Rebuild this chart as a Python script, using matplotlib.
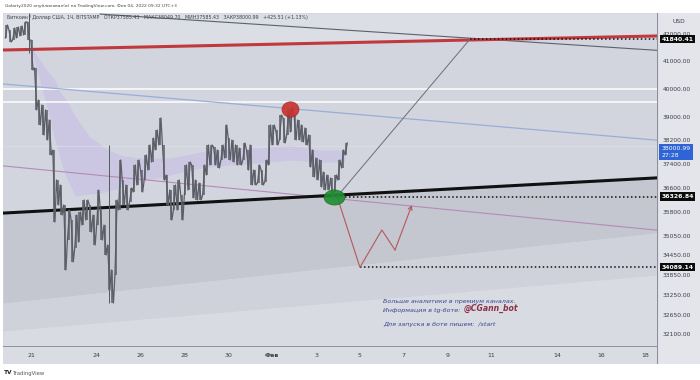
import numpy as np
import matplotlib
matplotlib.use('Agg')
import matplotlib.pyplot as plt
from matplotlib.path import Path
from matplotlib.transforms import Affine2D

# BTC/USD Bitstamp, свечи по 4 часа (максимум / минимум), начало 19 янв 21:00
candle_high = [42373, 42184, 42260, 42297, 42335, 42488, 42488, 41806, 40769, 39614,
               39437, 39260, 38910, 37876, 36870, 36704, 36051, 35890, 35569, 35729,
               35825, 36213, 36213, 36051, 35729, 36540, 35890, 35410, 34780, 34008,
               36213, 37537, 36870, 36704, 36606, 37369, 37537, 37202, 37706, 38046,
               38286, 38562, 38980, 38046, 37035, 36540, 36704, 36870, 36376, 37369,
               37470, 37369, 36870, 36770, 37369, 38046, 38046, 37978, 37876, 38046,
               38736, 38286, 38217, 38046, 37944, 38114, 37876, 38046, 37202, 37369,
               37202, 37537, 38736, 38736, 38562, 39085, 38980, 39260, 39331, 39085,
               38910, 38736, 38630, 38389, 37876, 37604, 37537, 37135, 37035, 36936,
               37035, 37537, 37876, 38114]
candle_low = [41881, 41731, 41806, 41881, 41957, 41995, 41806, 40696, 39260, 38736,
              38389, 38217, 37706, 35505, 36051, 35729, 34008, 34936, 34253, 34686,
              34873, 35410, 35569, 35188, 34780, 35410, 34936, 34469, 33403, 33015,
              33856, 35890, 36051, 35890, 36148, 36474, 36704, 36474, 36870, 37202,
              37470, 37876, 38046, 36870, 36051, 35569, 35890, 35890, 35569, 36376,
              36540, 36278, 36213, 36213, 36376, 37035, 37369, 37369, 37269, 37537,
              37604, 37537, 37470, 37369, 37369, 37537, 37202, 36704, 36704, 36770,
              36704, 36803, 37369, 38046, 38046, 38217, 38114, 38389, 38493, 38217,
              38217, 38150, 38046, 37302, 36969, 36870, 36638, 36540, 36540, 36300,
              36474, 36870, 37269, 37706]

# ось X: дни от 21 января
x_edges = [-1.28, 28.55]
red_line = [41432, 41958]
black_line = [35790, 36940]
purple_line = [37340, 35245]
blue_line = [40190, 38210]
channel_1 = [33010, 35160]
channel_2 = [32196, 33850]
white_levels = [40000, 39540]
grey_top_x = [3.15, 28.55]
grey_top_y = [42790, 41420]

# лавандовая область
band_x = [-0.05, 0.64, 1.09, 1.32, 1.55, 2.01, 2.69, 3.15, 3.37, 4.06, 4.97, 6.34,
          7.71, 9.07, 10.44, 11.81, 13.18, 14.32]
band_top = [41619, 40769, 40332, 39900, 39686, 39050, 38320, 38080, 37944, 37706,
            37604, 37604, 37808, 37944, 37944, 38046, 37876, 37876]
band_bot = [41619, 39614, 38217, 37604, 37035, 36343, 36409, 36442, 36474, 36606,
            36803, 37035, 37269, 37369, 37436, 37537, 37470, 37470]

# вертикальные отрезки
vseg_x = [-0.09, 3.56]
vseg_top = [42832, 38046]
vseg_bot = [41315, 33015]

# прогноз
proj_x = [13.96, 20.02]
proj_y = [36327, 41840]
zig_x = [13.96, 15.0, 16.0, 16.6, 17.37]
zig_y = [36327, 34089, 35251, 34624, 36051]

levels = [41840.41, 36326.84, 34089.14]
level_start = [20.02, 13.96, 15.0]

red_mark = (11.81, 39296)
green_mark = (13.82, 36327)

price_ticks = [42000, 41000, 40000, 39000, 38200, 37400, 36600, 35800, 35050,
               34450, 33850, 33250, 32650, 32100]
day_ticks = [0, 3, 5, 7, 9, 11, 13, 15, 17, 19, 21, 24, 26, 28]
day_labels = ['21', '24', '26', '28', '30', 'Фев', '3', '5', '7', '9', '11',
              '14', '16', '18']

ylo, yhi = 31765, 42832

fig = plt.figure(figsize=(7, 3.8), dpi=100)
fig.patch.set_facecolor('white')

ax = fig.add_axes([3/700, 34/380, 654/700, 333/380])
ax.set_yscale('log')
ax.set_xlim(x_edges)
ax.set_ylim(ylo, yhi)
ax.set_facecolor('#d2d5de')
ax.tick_params(which='both', left=False, labelleft=False, bottom=False, labelbottom=False)
for s in ax.spines.values():
    s.set_visible(False)

# заливки
ax.fill_between(x_edges, red_line, [yhi, yhi], color='#dbdee5', lw=0, zorder=0)
ax.fill_between(x_edges, channel_1, black_line, color='#c4c7d0', lw=0, zorder=0)
ax.fill_between(x_edges, channel_2, channel_1, color='#cfd2da', lw=0, zorder=0)
ax.fill_between(x_edges, [ylo, ylo], channel_2, color='#d8dbe2', lw=0, zorder=0)
ax.fill_between(band_x, band_bot, band_top, color='#c6bde6', alpha=0.55, lw=0, zorder=1)

# линии
for lv in white_levels:
    ax.axhline(lv, color='white', lw=1.2, alpha=0.9, zorder=1)
ax.axhline(38000, color='#e2e2ec', lw=0.6, alpha=0.6, zorder=1)
ax.plot(x_edges, blue_line, color='#98aed6', lw=0.9, zorder=2)
ax.plot(x_edges, purple_line, color='#b58ab8', lw=0.8, zorder=2)
ax.plot(grey_top_x, grey_top_y, color='#5c616b', lw=0.8, zorder=2)
ax.plot(x_edges, red_line, color='#c0393d', lw=2.2, zorder=2)
ax.plot(x_edges, black_line, color='#111111', lw=2.2, zorder=2)
ax.vlines(vseg_x, vseg_bot, vseg_top, color='#55595f', lw=0.7, zorder=2)

for lv, x0 in zip(levels, level_start):
    ax.plot([x0, x_edges[1]], [lv, lv], color='#111111', lw=1.1,
            linestyle=(0, (1, 1.6)), zorder=2)

# свечи: вертикальные бары + зигзаг между максимумами и минимумами
cx = np.arange(len(candle_high)) / 6 - 1.125
hi = np.array(candle_high)
lo = np.array(candle_low)
ax.vlines(cx, lo, hi, color='#5b5e66', lw=1.1, zorder=3)
mid = np.sqrt(hi * lo)
zx, zy = [], []
for k in range(len(cx)):
    rising = k == 0 or mid[k] >= mid[k - 1]
    first, second = (lo[k], hi[k]) if rising else (hi[k], lo[k])
    zx += [cx[k] - 0.05, cx[k] + 0.05]
    zy += [first, second]
ax.plot(zx, zy, color='#5b5e66', lw=0.9, zorder=3)

ax.plot(proj_x, proj_y, color='#6a6e77', lw=0.7, zorder=3)
ax.plot(zig_x[:-1], zig_y[:-1], color='#b5585a', lw=0.8, zorder=3)
ax.annotate('', xy=(zig_x[-1], zig_y[-1]), xytext=(zig_x[-2], zig_y[-2]),
            arrowprops=dict(arrowstyle='->', color='#b5585a', lw=0.8,
                            shrinkA=0, shrinkB=0, mutation_scale=7), zorder=3)

# овалы
red_path = Path.unit_circle().transformed(Affine2D().scale(1.11, 1))
green_path = Path.unit_circle().transformed(Affine2D().scale(1.38, 1))
ax.scatter([red_mark[0]], [red_mark[1]], marker=red_path, s=150,
           color='#c8312e', alpha=0.9, edgecolor='#a82522', lw=0.5, zorder=4)
ax.scatter([green_mark[0]], [green_mark[1]], marker=green_path, s=225,
           color='#1f8d30', alpha=0.9, edgecolor='#16701f', lw=0.5, zorder=4)

# подписи на графике
ax.text(0.006, 0.985, 'Биткоин / Доллар США, 1Ч, BITSTAMP   ОТКР37585.43   МАКС38049.70   '
        'МИН37585.43   ЗАКР38000.99   +425.51 (+1.13%)',
        transform=ax.transAxes, fontsize=3.4, color='#3a3f4a', va='center', zorder=5)
ax.text(0.581, 0.13, 'Больше аналитики в премиум каналах.', transform=ax.transAxes,
        fontsize=4.6, style='italic', color='#3c4491', zorder=5)
info = ax.text(0.581, 0.103, 'Информация в tg-боте:', transform=ax.transAxes,
               fontsize=4.6, style='italic', color='#3c4491', zorder=5)
ax.annotate('@CGann_bot', xy=(1, 0), xycoords=info, xytext=(2.5, 0),
            textcoords='offset points', va='bottom', fontsize=5.6,
            style='italic', weight='bold', color='#8e2f48', zorder=5)
ax.text(0.581, 0.06, 'Для запуска в боте пишем:  /start', transform=ax.transAxes,
        fontsize=4.6, style='italic', color='#3c4491', zorder=5)

# шкала цены
axp = fig.add_axes([657/700, 16/380, 43/700, 351/380])
axp.set_yscale('log')
axp.set_ylim(ylo * np.exp(-18 / 1114), yhi)
axp.set_xlim(0, 1)
axp.set_facecolor('#e3e5eb')
axp.tick_params(which='both', left=False, labelleft=False, bottom=False, labelbottom=False)
for s in axp.spines.values():
    s.set_visible(False)
axp.axvline(0, color='#8a8f99', lw=0.8)
tr = axp.get_yaxis_transform()
for p in price_ticks:
    axp.text(0.14, p, f'{p:.2f}', transform=tr, fontsize=4.3, color='#3a3d44', va='center')
axp.text(0.5, 0.975, 'USD', transform=axp.transAxes, fontsize=4.3, color='#3a3d44',
         ha='center', va='center')
for lv in levels:
    axp.text(0.1, lv, f'{lv:.2f}', transform=tr, fontsize=4.4, color='white',
             weight='bold', va='center',
             bbox=dict(boxstyle='square,pad=0.25', fc='#0b0b0b', ec='none'))
axp.text(0.1, 38000.99, '38000.99\n27:28', transform=tr, fontsize=4.4, color='white',
         va='top', linespacing=1.3,
         bbox=dict(boxstyle='square,pad=0.35', fc='#2f64d6', ec='none'))

# шкала времени
axt = fig.add_axes([3/700, 16/380, 654/700, 18/380])
axt.set_xlim(x_edges)
axt.set_ylim(0, 1)
axt.set_facecolor('#d9dce3')
axt.tick_params(which='both', left=False, labelleft=False, bottom=False, labelbottom=False)
for s in axt.spines.values():
    s.set_visible(False)
axt.axhline(1, color='#80858f', lw=1.2)
for d, lab in zip(day_ticks, day_labels):
    axt.text(d, 0.45, lab, fontsize=4.5, color='#3a3d44', ha='center', va='center',
             weight='bold' if lab == 'Фев' else 'normal')

# шапка и подвал
fig.text(5/700, 1 - 6/380, 'Golarty2020 опубликовал(а) на TradingView.com, Фев 04, 2022 09:32 UTC+3',
         fontsize=3.2, color='#444444', va='center')
fig.text(4/700, 7/380, 'TV', fontsize=4.2, weight='bold', color='#222222', va='center')
fig.text(13/700, 7/380, 'TradingView', fontsize=3.8, color='#555555', va='center')

fig.savefig('out.png', dpi=100)
